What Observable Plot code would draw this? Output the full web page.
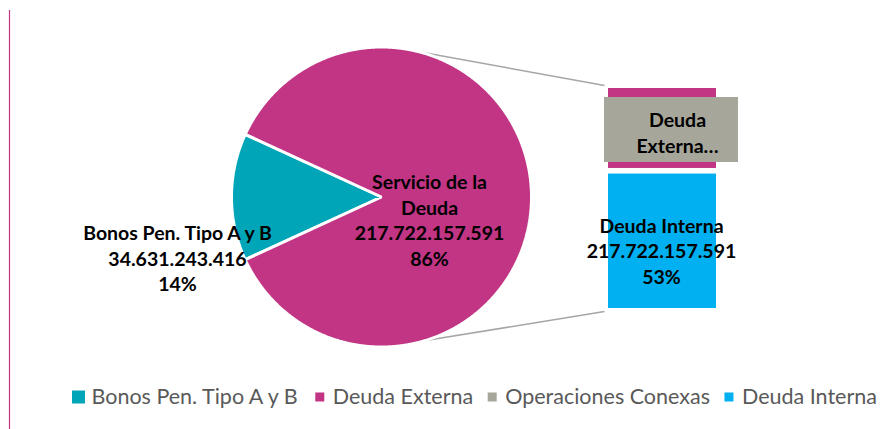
<!DOCTYPE html>
<html><head><meta charset="utf-8">
<script src="https://cdn.jsdelivr.net/npm/d3@7"></script>
<script src="https://cdn.jsdelivr.net/npm/@observablehq/plot@0.6"></script>
<style>
body{margin:0;background:#fff}
</style></head><body><div id="chart"></div>
<script>
// ---- data ----
const pieCategories = ["Bonos Pen. Tipo A y B", "Servicio de la Deuda"];
const pieValues = [34631243416, 217722157591];
const barCategories = ["Deuda Externa", "Operaciones Conexas", "Deuda Interna"];
const barShares = [32, 1, 53]; // percent of total
const barLabelValue = 217722157591;
const legendCategories = ["Bonos Pen. Tipo A y B", "Deuda Externa", "Operaciones Conexas", "Deuda Interna"];
const colors = {
  "Bonos Pen. Tipo A y B": "#00A6B8",
  "Servicio de la Deuda": "#C13584",
  "Deuda Externa": "#C13584",
  "Operaciones Conexas": "#A6A69A",
  "Deuda Interna": "#00B0F0"
};

// ---- layout ----
const W = 894, H = 429;
const cx = 381, cy = 196.5, R = 150;
const bar = {x1: 606.5, x2: 717.5, top: 86.5, bottom: 309.5};
const fmt = d3.formatLocale({thousands: ".", grouping: [3], decimal: ",", currency: ["", ""]}).format(",");
const total = d3.sum(pieValues);

// pie wedges
const share0 = pieValues[0] / total;
const a0 = 1.5 * Math.PI - share0 * Math.PI;
const arcs = d3.pie().sort(null).startAngle(a0).endAngle(a0 + 2 * Math.PI)(pieValues);
const wedges = arcs.map((a, i) => {
  const pts = [{x: cx, y: cy}];
  const n = Math.max(4, Math.ceil((a.endAngle - a.startAngle) / 0.005));
  for (let k = 0; k <= n; k++) {
    const t = a.startAngle + (a.endAngle - a.startAngle) * k / n;
    pts.push({x: cx + R * Math.sin(t), y: cy - R * Math.cos(t)});
  }
  return {key: pieCategories[i], pts};
});

// bar segments
const barScale = d3.scaleLinear().domain([0, d3.sum(barShares)]).range([bar.top, bar.bottom]);
let acc = 0;
const barRows = barCategories.map((c, i) => {
  const r = {key: c, x1: bar.x1, x2: bar.x2, y1: barScale(acc), y2: barScale(acc + barShares[i])};
  acc += barShares[i];
  return r;
});

// connectors
const angTop = 14.4 * Math.PI / 180, angBot = 163.5 * Math.PI / 180;
const connectors = [
  {x1: cx + R * Math.sin(angTop), y1: cy - R * Math.cos(angTop), x2: bar.x1 - 2.5, y2: bar.top - 1.5},
  {x1: cx + R * Math.sin(angBot), y1: cy - R * Math.cos(angBot), x2: bar.x1 - 2.5, y2: bar.bottom + 1.5}
];

// labels
const pct = v => Math.round(v / total * 100) + "%";
const labels = [
  {x: 177, y: 257, text: `${pieCategories[0]}\n${fmt(pieValues[0])}\n${pct(pieValues[0])}`},
  {x: 429, y: 219, text: `Servicio de la\nDeuda\n${fmt(pieValues[1])}\n${pct(pieValues[1])}`},
  {x: 661, y: 249.5, text: `${barCategories[2]}\n${fmt(barLabelValue)}\n${barShares[2]}%`},
  {x: 677, y: 131.5, text: `Deuda\nExterna…`}
];
const labelBox = {x1: 604, x2: 738, y1: 97, y2: 162};

// legend layout from measured text widths
const legSize = 21.5;
const ctx = document.createElement("canvas").getContext("2d");
ctx.font = `${legSize}px Lato`;
let lx = 78.5;
const legendRows = legendCategories.map((c, i) => {
  const s = i === 0 ? 13 : 9;
  const w = ctx.measureText(c).width;
  const row = {key: c, cxs: lx, s, tx: lx + 12.5, y: 397};
  lx = lx + 12.5 + w + 19.5;
  return row;
});

const chart = Plot.plot({
  width: W, height: H, margin: 0,
  x: {domain: [0, W], range: [0, W], axis: null},
  y: {domain: [0, H], range: [0, H], axis: null},
  marks: [
    Plot.ruleX([9], {y1: 10, y2: H, stroke: colors["Servicio de la Deuda"], strokeWidth: 1.2}),
    Plot.link(connectors, {x1: "x1", y1: "y1", x2: "x2", y2: "y2", stroke: "#A6A6A6", strokeWidth: 1.6}),
    ...wedges.map(w => Plot.line(w.pts, {x: "x", y: "y", fill: colors[w.key], stroke: "white", strokeWidth: 3, curve: "linear-closed", strokeLinejoin: "miter"})),
    Plot.rect(barRows, {x1: "x1", x2: "x2", y1: "y1", y2: "y2", fill: d => colors[d.key], stroke: "white", strokeWidth: 3}),
    Plot.rect([labelBox], {x1: "x1", x2: "x2", y1: "y1", y2: "y2", fill: colors["Operaciones Conexas"]}),
    Plot.text(labels, {x: "x", y: "y", text: "text", fontSize: 19.5, fontWeight: "bold", fontFamily: "Lato", fill: "black", lineHeight: 1.31, textAnchor: "middle"}),
    Plot.rect(legendRows, {x1: d => d.cxs - d.s / 2, x2: d => d.cxs + d.s / 2, y1: d => d.y - d.s / 2, y2: d => d.y + d.s / 2, fill: d => colors[d.key]}),
    Plot.text(legendRows, {x: "tx", y: "y", text: "key", textAnchor: "start", fontSize: legSize, fontFamily: "Lato", fill: "#595959"})
  ]
});
document.getElementById("chart").append(chart);
</script></body></html>
